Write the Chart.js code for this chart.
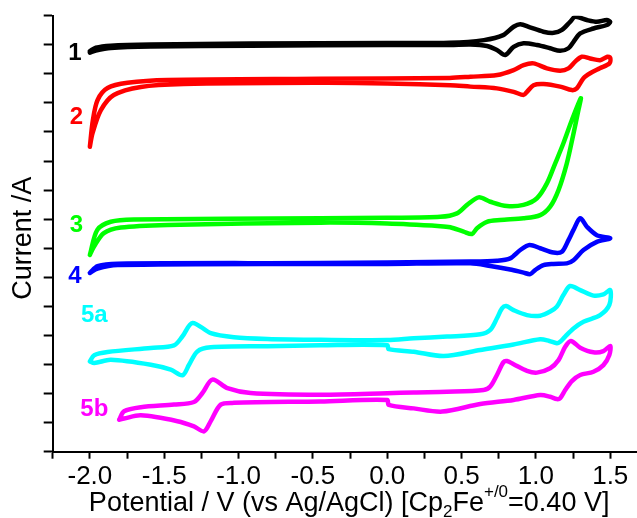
<!DOCTYPE html>
<html><head><meta charset="utf-8">
<script src="https://cdn.jsdelivr.net/npm/chart.js@4/dist/chart.umd.min.js"></script>
<style>html,body{margin:0;padding:0;background:#fff;} #wrap{width:637px;height:518px;}</style>
</head><body><div id="wrap"><canvas id="c" width="637" height="518"></canvas></div>
<script>
const xTickLabels = ['-2.0','-1.5','-1.0','-0.5','0.0','0.5','1.0','1.5'];
const curveNames = ['1','2','3','4','5a','5b'];
const curveColors = ['#000000','#ff0000','#00ff00','#0000ff','#00ffff','#ff00ff'];
const labelPos = [[-2.10,13.72],[-2.09,11.51],[-2.09,7.80],[-2.10,6.04],[-1.97,4.70],[-1.97,1.44]];

const cv1 = [[-2.00,13.78],[-1.96,13.90],[-1.86,13.97],[-1.59,14.01],[-0.92,14.04],[0.00,14.06],[0.42,14.07],[0.65,14.16],[0.78,14.33],[0.85,14.62],[0.895,14.71],[0.96,14.60],[1.05,14.45],[1.12,14.41],[1.175,14.51],[1.23,14.79],[1.265,14.96],[1.343,14.85],[1.41,14.79],[1.477,14.85],[1.50,14.79],
 [1.477,14.68],[1.387,14.56],[1.298,14.39],[1.253,14.10],[1.219,13.88],[1.163,13.79],[1.096,13.88],[1.007,13.99],[0.917,14.05],[0.85,13.93],[0.794,13.65],[0.738,13.82],[0.671,13.96],[0.559,14.01],[0.424,13.99],[0.00,13.99],[-0.92,13.97],[-1.59,13.94],[-1.86,13.89],[-1.96,13.80],[-2.00,13.73]];

const cv2 = [[-2.00,10.49],[-1.98,11.40],[-1.948,12.10],[-1.881,12.51],[-1.747,12.69],[-1.478,12.79],[-0.449,12.83],[0.42,12.86],[0.56,12.90],[0.74,12.96],[0.85,13.13],[0.917,13.30],[0.984,13.36],[1.074,13.19],[1.163,13.11],[1.219,13.19],[1.264,13.42],[1.309,13.59],[1.365,13.53],[1.432,13.47],[1.481,13.59],[1.50,13.55],
 [1.495,13.36],[1.43,13.19],[1.365,13.02],[1.32,12.85],[1.275,12.50],[1.242,12.44],[1.163,12.56],[1.051,12.65],[0.984,12.61],[0.94,12.38],[0.917,12.27],[0.85,12.38],[0.738,12.50],[0.559,12.56],[0.424,12.61],[0.00,12.67],[-0.449,12.69],[-1.369,12.65],[-1.657,12.55],[-1.839,12.27],[-1.926,11.75],[-1.982,10.96],[-2.00,10.49]];

const cv3 = [[-2.00,6.77],[-1.95,7.63],[-1.86,7.91],[-1.705,7.99],[-0.449,8.03],[0.00,8.05],[0.357,8.08],[0.469,8.20],[0.537,8.49],[0.615,8.75],[0.693,8.60],[0.805,8.45],[0.917,8.49],[1.007,8.72],[1.074,9.23],[1.13,9.92],[1.185,10.61],[1.242,11.41],[1.302,12.16],
 [1.286,11.75],[1.253,10.95],[1.208,9.92],[1.152,9.00],[1.096,8.43],[1.029,8.14],[0.917,8.03],[0.76,7.97],[0.671,7.91],[0.604,7.69],[0.570,7.49],[0.514,7.57],[0.424,7.72],[0.357,7.76],[0.00,7.85],[-0.449,7.88],[-1.478,7.80],[-1.792,7.71],[-1.906,7.52],[-1.973,7.05],[-2.00,6.77]];

const cv4 = [[-2.00,6.15],[-1.948,6.38],[-1.814,6.47],[-0.449,6.49],[0.00,6.51],[0.559,6.54],[0.738,6.57],[0.827,6.65],[0.895,6.94],[0.957,7.11],[1.029,7.00],[1.118,6.85],[1.175,6.88],[1.219,7.28],[1.253,7.63],[1.298,8.03],[1.343,7.74],[1.41,7.45],[1.50,7.34],
 [1.41,7.22],[1.32,6.94],[1.253,6.59],[1.208,6.48],[1.118,6.46],[1.051,6.42],[0.995,6.25],[0.962,6.11],[0.917,6.16],[0.827,6.27],[0.693,6.39],[0.559,6.48],[0.00,6.46],[-0.449,6.46],[-1.814,6.42],[-1.948,6.30],[-2.00,6.15]];

const cv5a = [[-2.00,3.11],[-1.971,3.32],[-1.881,3.43],[-1.59,3.57],[-1.434,3.66],[-1.377,3.97],[-1.31,4.43],[-1.187,4.08],[-1.031,3.94],[-0.807,3.88],[-0.449,3.85],[0.00,3.84],[0.178,3.90],[0.402,3.96],[0.626,4.04],[0.693,4.19],[0.738,4.59],[0.772,4.93],[0.80,5.01],[0.85,4.87],[0.94,4.70],[1.029,4.68],[1.096,4.82],[1.141,4.99],[1.185,5.39],[1.23,5.70],[1.298,5.56],[1.387,5.37],[1.454,5.41],[1.50,5.56],
 [1.494,5.05],[1.432,4.70],[1.32,4.47],[1.253,4.24],[1.197,3.96],[1.163,3.78],[1.141,3.73],[1.09,3.81],[1.029,3.87],[0.85,3.69],[0.626,3.50],[0.38,3.29],[0.178,3.44],[0.01,3.53],[0.00,3.66],[-0.449,3.66],[-0.807,3.63],[-1.187,3.59],[-1.277,3.45],[-1.333,2.99],[-1.377,2.63],[-1.456,2.82],[-1.59,2.99],[-1.859,3.16],[-1.971,3.05],[-2.00,3.11]];

const cv5b = [[-1.803,1.10],[-1.77,1.39],[-1.657,1.53],[-1.434,1.62],[-1.30,1.71],[-1.243,2.02],[-1.176,2.48],[-1.075,2.19],[-0.919,2.02],[-0.449,1.96],[0.00,2.01],[0.178,2.04],[0.402,2.06],[0.648,2.12],[0.693,2.24],[0.738,2.64],[0.782,3.08],[0.805,3.12],[0.85,3.01],[0.94,2.78],[1.007,2.72],[1.096,2.87],[1.152,3.15],[1.197,3.61],[1.235,3.81],[1.298,3.58],[1.387,3.42],[1.454,3.46],[1.50,3.64],
 [1.494,3.33],[1.454,2.98],[1.387,2.75],[1.298,2.64],[1.242,2.43],[1.197,2.12],[1.163,1.84],[1.141,1.81],[1.096,1.89],[1.029,1.95],[0.85,1.78],[0.626,1.64],[0.37,1.38],[0.178,1.49],[0.01,1.61],[0.00,1.78],[-0.449,1.73],[-1.031,1.68],[-1.12,1.62],[-1.187,1.05],[-1.232,0.70],[-1.30,0.87],[-1.411,1.05],[-1.657,1.25],[-1.77,1.14],[-1.803,1.10]];

const curves = [cv1, cv2, cv3, cv4, cv5a, cv5b];
const FONT = '"Liberation Sans", Arial, Helvetica, sans-serif';

const annot = {
  id: 'annot',
  afterDatasetsDraw(chart) {
    const {ctx, scales: {x, y}} = chart;
    ctx.save();
    ctx.font = 'bold 24px ' + FONT;
    ctx.textAlign = 'center';
    ctx.textBaseline = 'middle';
    curveNames.forEach((n, i) => {
      ctx.fillStyle = curveColors[i];
      ctx.fillText(n, x.getPixelForValue(labelPos[i][0]), y.getPixelForValue(labelPos[i][1]));
    });
    // y-axis title
    ctx.fillStyle = '#000';
    ctx.font = '27px ' + FONT;
    ctx.save();
    ctx.translate(24, (y.top + y.bottom) / 2 + 4.5);
    ctx.rotate(-Math.PI / 2);
    ctx.fillText('Current /A', 0, 0);
    ctx.restore();
    // x-axis title with sub/superscripts
    const parts = [
      {t: 'Potential / V (vs Ag/AgCl) [Cp', s: 27, dy: 0},
      {t: '2', s: 17, dy: 6},
      {t: 'Fe', s: 27, dy: 0},
      {t: '+/0', s: 17, dy: -14},
      {t: '=0.40 V]', s: 27, dy: 0}
    ];
    ctx.textAlign = 'left';
    ctx.textBaseline = 'alphabetic';
    let px = x.getPixelForValue(-2.0) - 1;
    const base = 511;
    parts.forEach(p => {
      ctx.font = p.s + 'px ' + FONT;
      ctx.fillText(p.t, px, base + p.dy);
      px += ctx.measureText(p.t).width;
    });
    ctx.restore();
  }
};

new Chart(document.getElementById('c'), {
  type: 'scatter',
  data: {
    datasets: curves.map((c, i) => ({
      label: curveNames[i],
      data: c.map(p => ({x: p[0], y: p[1]})),
      showLine: true,
      borderColor: curveColors[i],
      backgroundColor: curveColors[i],
      borderWidth: 4.5,
      borderJoinStyle: 'round',
      borderCapStyle: 'round',
      pointRadius: 0,
      pointHoverRadius: 0,
      tension: 0.3,
      fill: false
    }))
  },
  options: {
    responsive: false,
    animation: false,
    devicePixelRatio: 1,
    events: [],
    layout: {padding: {left: 0, right: 0, top: 15.7, bottom: 0}},
    plugins: {legend: {display: false}, tooltip: {enabled: false}},
    scales: {
      x: {
        type: 'linear',
        min: -2.25,
        max: 1.68,
        afterFit(s) { s.height = 66.3; },
        border: {display: true, color: '#000', width: 2},
        grid: {display: true, drawOnChartArea: false, drawTicks: true, tickLength: 7, tickWidth: 2, tickColor: '#000'},
        ticks: {
          stepSize: 0.25,
          includeBounds: false,
          autoSkip: false,
          maxRotation: 0,
          minRotation: 0,
          padding: 3,
          color: '#000',
          font: {family: FONT, size: 26},
          callback(v) {
            const s = Number(v).toFixed(1);
            return (Math.abs(v * 2 - Math.round(v * 2)) < 1e-6 && xTickLabels.includes(s)) ? s : '';
          }
        }
      },
      y: {
        type: 'linear',
        min: 0,
        max: 15,
        afterFit(s) { s.width = 52.7; },
        border: {display: true, color: '#000', width: 2},
        grid: {display: true, drawOnChartArea: false, drawTicks: true, tickLength: 9, tickWidth: 2, tickColor: '#000'},
        ticks: {stepSize: 1, display: false}
      }
    }
  },
  plugins: [annot]
});
</script>
</body></html>
